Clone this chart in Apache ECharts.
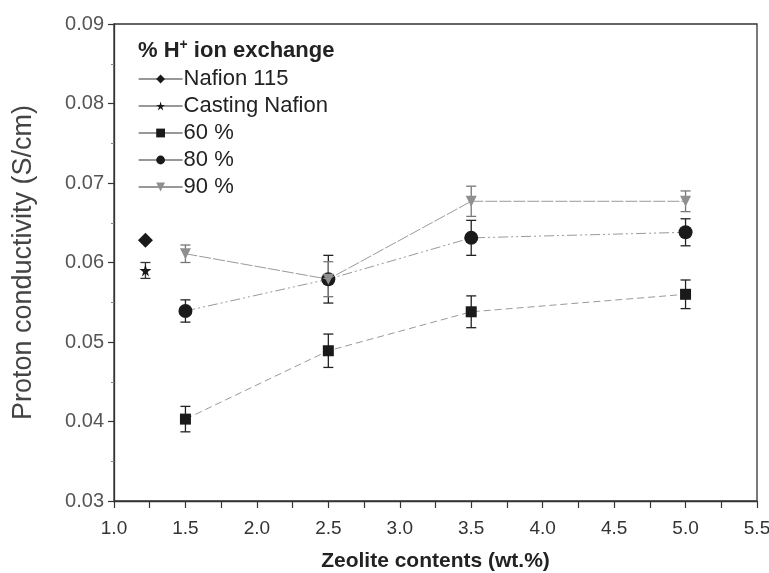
<!DOCTYPE html>
<html>
<head>
<meta charset="utf-8">
<script src="https://cdn.jsdelivr.net/npm/echarts@6/dist/echarts.min.js"></script>
<style>
html,body{margin:0;padding:0;background:#fff;}
#chart{width:769px;height:573px;}
</style>
</head>
<body>
<div id="chart"></div>
<script>
// Zeolite loading (wt.%) for the composite membranes
const zeolite = [1.5, 2.5, 3.5, 5.0];

// Proton conductivity (S/cm) and its error for each ion-exchange level
const cond60 = [0.0403, 0.0489, 0.0538, 0.0560];
const err60  = [0.0016, 0.0021, 0.0020, 0.0018];
const cond80 = [0.0539, 0.0579, 0.0631, 0.0638];
const err80  = [0.0014, 0.0030, 0.0022, 0.0017];
const cond90 = [0.0611, 0.0579, 0.0677, 0.0677];
const err90  = [0.0011, 0.0022, 0.0019, 0.0013];

// Reference membranes (plotted on their own at the left)
const refX = 1.22;
const nafion115 = 0.0628;
const castingNafion = 0.0590;
const castingErr = 0.0010;

const seriesNames = ['Nafion 115', 'Casting Nafion', '60 %', '80 %', '90 %'];
const yTicks = [0.03, 0.04, 0.05, 0.06, 0.07, 0.08, 0.09];
const xTicks = [1.0, 1.5, 2.0, 2.5, 3.0, 3.5, 4.0, 4.5, 5.0, 5.5];

const pairs = (xs, ys) => xs.map((x, i) => [x, ys[i]]);
const errRows = (xs, ys, es) => xs.map((x, i) => [x, ys[i] - es[i], ys[i] + es[i]]);

function errorBars(rows, color) {
  return {
    type: 'custom',
    silent: true,
    z: 1,
    data: rows,
    renderItem: function (params, api) {
      const lo = api.coord([api.value(0), api.value(1)]);
      const hi = api.coord([api.value(0), api.value(2)]);
      const w = 5;
      const st = { stroke: color, lineWidth: 1.3 };
      return {
        type: 'group',
        children: [
          { type: 'line', shape: { x1: lo[0], y1: lo[1], x2: hi[0], y2: hi[1] }, style: st },
          { type: 'line', shape: { x1: lo[0] - w, y1: lo[1], x2: lo[0] + w, y2: lo[1] }, style: st },
          { type: 'line', shape: { x1: hi[0] - w, y1: hi[1], x2: hi[0] + w, y2: hi[1] }, style: st }
        ]
      };
    }
  };
}

const chart = echarts.init(document.getElementById('chart'));
const font = 'Liberation Sans, Arial, sans-serif';

chart.setOption({
  animation: false,
  backgroundColor: '#ffffff',
  textStyle: { fontFamily: font },
  title: {
    text: '% H{sup|+} ion exchange',
    left: 133,
    top: 33,
    textStyle: {
      fontFamily: font, fontSize: 22, fontWeight: 'bold', color: '#222',
      rich: { sup: { fontSize: 14, fontWeight: 'bold', color: '#222', verticalAlign: 'top', padding: [0, 0, 12, 0] } }
    }
  },
  legend: {
    data: seriesNames,
    orient: 'vertical',
    left: 133,
    top: 63,
    itemGap: 5,
    itemWidth: 44,
    itemHeight: 11,
    textStyle: { fontFamily: font, fontSize: 22, lineHeight: 21.5, color: '#222', padding: [0, 0, 0, -4] },
    lineStyle: { color: '#333', width: 1.2, type: 'solid' },
    selectedMode: false
  },
  grid: {
    left: 114, right: 12, top: 24, bottom: 72,
    outerBoundsMode: 'none',
    containLabel: false,
    show: true, borderColor: '#333', borderWidth: 1.3, backgroundColor: 'transparent'
  },
  xAxis: {
    type: 'value',
    min: 1.0, max: 5.5, interval: 0.5,
    name: 'Zeolite contents (wt.%)',
    nameLocation: 'middle',
    nameGap: 50,
    nameTextStyle: { fontFamily: font, fontSize: 21, fontWeight: 'bold', color: '#222' },
    axisLine: { show: true, lineStyle: { color: '#333', width: 1.3 } },
    axisTick: { show: true, inside: false, length: 7, lineStyle: { color: '#333', width: 1.2 } },
    minorTick: { show: true, splitNumber: 2, length: 7, lineStyle: { color: '#333', width: 1.2 } },
    splitLine: { show: false },
    axisLabel: {
      margin: 18,
      fontFamily: font,
      fontSize: 19, color: '#333',
      formatter: v => xTicks.find(t => Math.abs(t - v) < 1e-9).toFixed(1)
    }
  },
  yAxis: {
    type: 'value',
    min: 0.03, max: 0.09, interval: 0.01,
    name: 'Proton conductivity (S/cm)',
    nameLocation: 'middle',
    nameGap: 77,
    nameTextStyle: { fontFamily: font, fontSize: 27, color: '#444' },
    axisLine: { show: true, lineStyle: { color: '#333', width: 1.3 } },
    axisTick: { show: true, inside: false, length: 6, lineStyle: { color: '#333', width: 1.2 } },
    minorTick: { show: true, splitNumber: 2, length: 3, lineStyle: { color: '#888', width: 1 } },
    splitLine: { show: false },
    axisLabel: {
      margin: 10,
      fontFamily: font, fontSize: 20, color: '#555',
      formatter: v => yTicks.find(t => Math.abs(t - v) < 1e-9).toFixed(2)
    }
  },
  series: [
    {
      name: 'Nafion 115', type: 'line', z: 3,
      data: [[refX, nafion115]],
      symbol: 'diamond', symbolSize: 15,
      itemStyle: { color: '#1a1a1a' },
      lineStyle: { color: '#333' }
    },
    {
      name: 'Casting Nafion', type: 'line', z: 3,
      data: [[refX, castingNafion]],
      symbol: 'path://M50,0 L61,35 L98,35 L68,57 L79,92 L50,70 L21,92 L32,57 L2,35 L39,35 Z',
      symbolSize: 12,
      itemStyle: { color: '#1a1a1a' },
      lineStyle: { color: '#333' }
    },
    {
      name: '60 %', type: 'line', z: 3,
      data: pairs(zeolite, cond60),
      symbol: 'rect', symbolSize: 11,
      itemStyle: { color: '#1a1a1a' },
      lineStyle: { color: '#9a9a9a', width: 1, type: [7, 4] }
    },
    {
      name: '80 %', type: 'line', z: 3,
      data: pairs(zeolite, cond80),
      symbol: 'circle', symbolSize: 14,
      itemStyle: { color: '#1a1a1a' },
      lineStyle: { color: '#9a9a9a', width: 1, type: [10, 3, 2, 3, 2, 3] }
    },
    {
      name: '90 %', type: 'line', z: 4,
      data: pairs(zeolite, cond90),
      symbol: 'triangle', symbolRotate: 180, symbolSize: 11,
      itemStyle: { color: '#8f8f8f' },
      lineStyle: { color: '#9a9a9a', width: 1, type: [12, 2] }
    },
    errorBars([[refX, castingNafion - castingErr, castingNafion + castingErr]], '#333'),
    errorBars(errRows(zeolite, cond60, err60), '#222'),
    errorBars(errRows(zeolite, cond80, err80), '#222'),
    errorBars(errRows(zeolite, cond90, err90), '#777')
  ]
});
</script>
</body>
</html>
